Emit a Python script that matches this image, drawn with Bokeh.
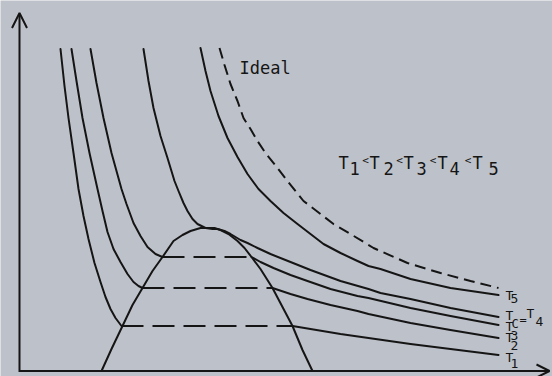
from bokeh.plotting import figure
from bokeh.models import Range1d, Arrow, OpenHead, Label
from bokeh.embed import file_html
from bokeh.resources import INLINE

# ---- data (arbitrary units): V = volume, P = pressure ----
t1_left_v = [41, 45, 49, 54, 59, 64, 69, 75, 81, 86, 91, 96, 102]
t1_left_p = [322, 285, 253, 218, 182, 155, 132, 108, 89, 74, 62, 53, 45]
t1_right_v = [273, 291, 321, 349, 391, 431, 479]
t1_right_p = [45, 42, 37, 33, 27, 22, 16]

t2_left_v = [52, 57, 63, 70, 78, 83, 88, 94, 101, 108, 114, 119, 123]
t2_left_p = [322, 290, 253, 218, 182, 160, 139, 122, 109, 97, 89, 85, 83]
t2_right_v = [253, 271, 288, 311, 338, 349, 391, 431, 479]
t2_right_p = [83, 77, 72, 66, 60, 57, 48, 41, 33]

t3_left_v = [71, 77, 84, 92, 102, 107, 114, 121, 128, 136, 143]
t3_left_p = [322, 288, 253, 218, 182, 167, 148, 135, 124, 117, 114]
t3_right_v = [232, 241, 254, 271, 288, 311, 338, 349, 391, 431, 479]
t3_right_p = [114, 109, 103, 96, 90, 82, 75, 73, 63, 55, 46]

t4_v = [124, 129, 134, 141, 148, 155, 159, 164, 168, 173, 178, 186, 193, 198,
        205, 211, 221, 228, 238, 251, 271, 291, 321, 349, 361, 391, 431, 479]
t4_p = [322, 290, 263, 235, 213, 190, 180, 168, 160, 152, 147, 143, 142, 142,
        140, 137, 131, 128, 123, 117, 109, 101, 90, 82, 78, 72, 63, 54]

t5_v = [181, 186, 191, 199, 208, 218, 228, 239, 251, 264, 278, 291, 304, 321,
        338, 349, 361, 391, 431, 479]
t5_p = [323, 300, 280, 255, 233, 214, 197, 182, 170, 158, 147, 137, 127, 118,
        110, 105, 102, 92, 83, 76]

ideal_v = [200, 205, 211, 218, 224, 231, 238, 246, 258, 268, 284, 301, 314, 331,
           354, 388, 421, 451, 479]
ideal_p = [323, 306, 287, 270, 253, 242, 230, 218, 203, 190, 170, 157, 147, 137,
           123, 108, 98, 90, 83]

dome_v = [82, 92, 103, 113, 123, 133, 143, 154, 163, 171, 181, 188, 195, 201,
          209, 218, 225, 232, 241, 253, 263, 273, 283, 293]
dome_p = [0, 22, 45, 66, 83, 100, 114, 130, 136, 140, 143, 143, 143, 141,
          137, 130, 123, 114, 102, 83, 64, 45, 21, 0]

v_axis_end = 530
p_axis_end = 358

# ---- styling ----
BG = "#bdc1c9"
INK = "#151515"
FONT = "DejaVu Sans Mono"

p = figure(width=552, height=376,
           x_range=Range1d(-19, 533), y_range=Range1d(-5.5, 370.5),
           x_axis_location=None, y_axis_location=None,
           toolbar_location=None, output_backend="svg", min_border=0,
           background_fill_color=BG, border_fill_color=BG,
           outline_line_color=None)
for g in p.grid:
    g.visible = False

line_kw = dict(line_color=INK, line_width=2, line_join="round", line_cap="round")

# isotherms with their two-phase plateaus
for lv, lp, rv, rp in [(t1_left_v, t1_left_p, t1_right_v, t1_right_p),
                       (t2_left_v, t2_left_p, t2_right_v, t2_right_p),
                       (t3_left_v, t3_left_p, t3_right_v, t3_right_p)]:
    p.line(lv, lp, **line_kw)
    p.line(rv, rp, **line_kw)
    p.line([lv[-1], rv[0]], [lp[-1], lp[-1]], line_color=INK, line_width=2,
           line_dash="22 9")

p.line(t4_v, t4_p, **line_kw)
p.line(t5_v, t5_p, **line_kw)
p.line(ideal_v, ideal_p, line_color=INK, line_width=2, line_dash="11 6")
p.line(dome_v, dome_p, **line_kw)

# axes with open arrow heads
p.add_layout(Arrow(end=OpenHead(size=15, line_width=2, line_color=INK),
                   x_start=0, y_start=-1, x_end=0, y_end=p_axis_end,
                   line_width=2, line_color=INK))
p.add_layout(Arrow(end=OpenHead(size=13, line_width=2, line_color=INK),
                   x_start=0, y_start=0, x_end=v_axis_end, y_end=0,
                   line_width=2, line_color=INK))


def put(txt, x, y, size, align="left"):
    p.add_layout(Label(x=x, y=y, text=txt, text_font=FONT,
                       text_font_size=f"{size}px", text_color=INK,
                       text_align=align, text_baseline="alphabetic"))


put("Ideal", 220, 303.5, 17)

# T1<T2<T3<T4<T5
for cx in [324, 355, 389, 423, 458]:
    put("T", cx, 208.5, 17, "center")
for d, cx in zip("12345", [335, 369, 402, 435, 474]):
    put(d, cx, 202.5, 17, "center")
for cx in [346, 380, 413.5, 448.5]:
    put("<", cx, 210.5, 11, "center")

# curve end labels
for sub, tp, dp in [("5", 75.5, 72.5), ("3", 44.5, 35.5),
                    ("2", 33.5, 25.5), ("1", 13.5, 7.5)]:
    put("T", 486, tp, 13)
    put(sub, 491, dp, 13)
put("T", 486, 55.5, 13)
put("C", 492, 47.5, 12)
put("=", 500, 51, 12)
put("T", 507, 57.5, 13)
put("4", 516, 49.5, 13)

open("out.html", "w").write(file_html(p, INLINE))
